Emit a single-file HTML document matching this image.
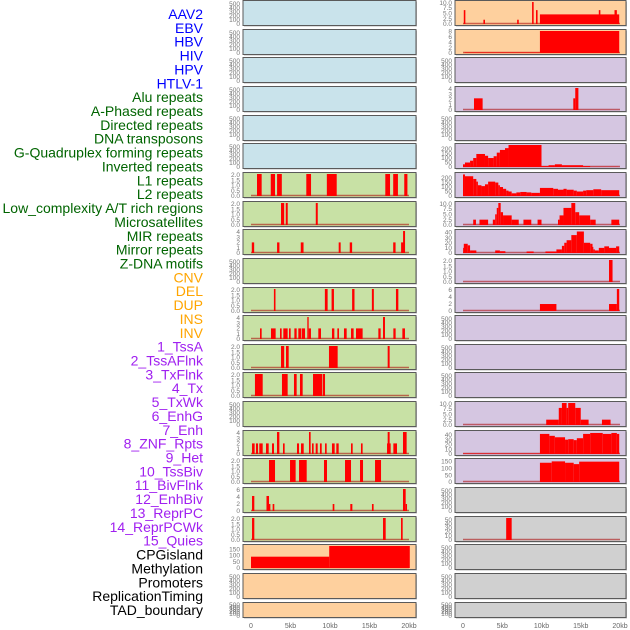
<!DOCTYPE html>
<html><head><meta charset="utf-8"><style>
body{margin:0;background:#fff;width:630px;height:630px;overflow:hidden;font-family:"Liberation Sans",sans-serif}
svg{position:absolute;left:0;top:0}
</style></head><body>
<svg id="chart" width="630" height="630"></svg>
<script>
// ---- labels ----
const labels=["AAV2","EBV","HBV","HIV","HPV","HTLV-1","Alu repeats","A-Phased repeats","Directed repeats","DNA transposons","G-Quadruplex forming repeats","Inverted repeats","L1 repeats","L2 repeats","Low_complexity A/T rich regions","Microsatellites","MIR repeats","Mirror repeats","Z-DNA motifs","CNV","DEL","DUP","INS","INV","1_TssA","2_TssAFlnk","3_TxFlnk","4_Tx","5_TxWk","6_EnhG","7_Enh","8_ZNF_Rpts","9_Het","10_TssBiv","11_BivFlnk","12_EnhBiv","13_ReprPC","14_ReprPCWk","15_Quies","CPGisland","Methylation","Promoters","ReplicationTiming","TAD_boundary"];
const labelColors=["#0000ff","#0000ff","#0000ff","#0000ff","#0000ff","#0000ff","#006400","#006400","#006400","#006400","#006400","#006400","#006400","#006400","#006400","#006400","#006400","#006400","#006400","#ffa500","#ffa500","#ffa500","#ffa500","#ffa500","#a020f0","#a020f0","#a020f0","#a020f0","#a020f0","#a020f0","#a020f0","#a020f0","#a020f0","#a020f0","#a020f0","#a020f0","#a020f0","#a020f0","#a020f0","#000","#000","#000","#000","#000"];
const xTicks=[0,5,10,15,20];
const xTickLabels=["0","5kb","10kb","15kb","20kb"];
// ---- tick sets ----
const T500=[0,100,200,300,400,500],T2=[0,0.5,1,1.5,2],T4=[0,1,2,3,4],T6=[0,2,4,6],T10=[0,2.5,5,7.5,10],T8=[0,2,4,6,8],T200=[0,50,100,150,200],T40=[0,10,20,30,40],T150=[0,50,100,150],T50=[0,10,20,30,40,50];
const T2f=["0.0","0.5","1.0","1.5","2.0"],T10f=["0.0","2.5","5.0","7.5","10.0"];
// ---- left column data [startKb,endKb,value] ----
const L06=[[0.76,1.35,2.2],[2.5,3.04,2.2],[3.3,3.9,2.2],[7,7.6,2.2],[9.6,10.85,2.2],[17,17.6,2.2],[18,18.6,2.2],[19.4,19.8,2.2]];
const L07=[[3.8,4.2,2.2],[4.4,4.65,2.2],[8.2,8.45,2.2]];
const L08=[[0.1,0.4,2],[3.3,3.6,2],[6.3,6.65,2],[11.1,11.35,2],[12.5,12.8,2],[18,18.3,2],[19,19.3,2],[19.25,19.5,4.2]];
const L10=[[2.9,3.1,2.2],[9.35,9.7,2.2],[10.2,10.5,2.2],[12.8,13.1,2.2],[15.3,15.55,2.2],[18.35,18.65,2.2]];
const L11=[[1.14,1.35,2],[2.53,3.12,2],[3.67,3.88,2],[4.09,4.64,2],[4.81,5.02,2],[5.49,5.78,2],[5.99,6.33,2],[6.41,6.84,2],[7.13,7.3,4.2],[7.3,7.59,2],[8.52,8.86,2],[10.25,10.55,2],[10.93,11.14,2],[11.77,12.11,2],[12.66,12.99,2],[13.29,14.13,2],[16.12,16.41,2],[16.71,16.96,4.2],[18.02,18.31,2],[19.16,19.49,2]];
const L12=[[3.8,4.2,2.2],[4.43,4.77,2.2],[9.87,10.97,2.2],[17.3,17.55,2.2]];
const L13=[[0.5,1.48,2.2],[3.92,4.64,2.2],[5.44,5.78,2.2],[6.2,6.54,2.2],[7.85,9.03,2.2],[9.11,9.37,2.2]];
const L15=[[0.13,0.46,2],[0.63,0.89,2],[1.05,1.48,2],[1.9,2.24,2],[2.66,2.91,2],[3.29,3.59,4.2],[4.05,4.26,2],[5.82,6.08,2],[6.33,6.67,2],[7.34,7.55,4.2],[7.72,7.93,2],[8.19,8.44,2],[8.73,8.95,2],[9.37,9.58,2],[10.25,10.59,2],[10.8,11.1,2],[12.66,12.87,2],[13.92,14.13,2],[17.22,17.68,2],[17.3,17.55,4.2],[18.02,18.48,2],[19.24,19.7,4.2]];
const L16=[[2.28,3.04,2.2],[4.94,5.65,2.2],[6.08,7.05,2.2],[9.24,9.62,2.2],[11.9,12.66,2.2],[13.8,14.18,2.2],[15.7,16.46,2.2]];
const L17=[[0.13,0.42,4.3],[1.96,2.28,4.3],[2.28,2.45,2],[2.74,2.95,2],[10.34,10.55,2],[12.57,12.83,2],[15.31,15.52,2],[19.24,19.58,6.5],[19.58,19.75,2]];
const L18=[[0.13,0.42,2.2],[16.71,17.05,2.2],[18.99,19.2,2.2]];
const L19=[[0,9.9,90],[9.9,20.1,180]];
// ---- right column data ----
const R00=[[0.1,0.3,6.5],[2.6,2.8,2],[6.9,7.1,2],[8.8,9.0,10.5],[9.3,9.5,6.5],[9.8,19.9,4.5],[17.3,17.5,6.5],[19.3,19.6,6.5]];
const R01=[[0.2,9.8,0.2],[9.8,19.9,8.2]];
const R03=[[1.4,2.5,2.2],[14.05,14.3,2.2],[14.3,14.7,4.2]];
const R05=[[0,0.25,30],[0.25,0.9,50],[0.9,1.3,70],[1.3,1.7,100],[1.7,2.8,145],[2.8,3.2,125],[3.2,3.9,100],[3.9,4.3,120],[4.3,4.7,160],[4.7,5.35,190],[5.35,5.8,210],[5.8,10,250],[10,10.9,10],[10.9,11.7,20],[11.7,12.6,30],[12.6,15.3,20],[15.3,16.2,10],[16.2,19.8,2]];
const R06=[[0,0.25,240],[0.25,1.3,220],[1.3,1.7,190],[1.7,1.9,160],[1.9,2.35,120],[2.35,2.8,110],[2.8,3.2,130],[3.2,4.1,160],[4.1,4.5,150],[4.5,4.7,120],[4.7,5.1,100],[5.1,5.5,80],[5.5,5.8,60],[5.8,6.2,50],[6.2,6.8,30],[6.8,7.3,40],[7.3,8.1,45],[8.1,8.7,40],[8.7,9.8,35],[9.8,11.5,90],[11.5,12.1,80],[12.1,12.8,70],[12.8,13.2,80],[13.2,14.1,70],[14.1,14.5,60],[14.5,15.3,50],[15.3,15.7,60],[15.7,16.6,65],[16.6,17.6,75],[17.6,19.9,65]];
const R07=[[1.3,1.65,2.5],[2.1,3.2,2.5],[3.8,4.1,2.5],[4.1,4.3,5],[4.3,4.5,8],[4.5,4.8,10.5],[4.8,5.1,6],[5.1,6.2,4.5],[6.2,7.1,2.5],[7.7,8.7,2.5],[9.5,10,2.5],[12.1,12.3,2.5],[12.3,12.8,4.5],[12.8,13.8,8],[13.8,14.3,10.5],[14.3,14.8,6],[14.8,16.2,4.5],[16.2,16.9,2.5],[18.9,19.9,2.5]];
const R08=[[0,0.1,10],[0.1,0.6,18],[0.6,0.9,15],[0.9,1.7,5],[4.1,4.7,5],[4.7,5.4,3.5],[8.1,9,3],[10.5,11.9,3],[11.9,12.6,7],[12.6,12.9,14],[12.9,13.2,20],[13.2,13.8,25],[13.8,14.5,35],[14.5,15.4,42],[15.4,16.2,20],[16.2,16.5,18],[16.5,16.6,12],[16.6,16.8,7],[16.8,17.3,5],[17.3,18,10],[18,18.6,13],[18.6,19.5,10],[19.5,19.9,13]];
const R09=[[18.6,19.05,2.2]];
const R10=[[9.8,11.9,2],[18.6,19.6,2],[19.6,19.9,6.5]];
const R14=[[10.6,12.2,2.5],[12.2,12.6,8],[12.6,13.2,10.5],[13.2,13.4,8],[13.4,14.3,10.5],[14.3,15,8],[15,16,2.5],[17.7,18.8,2.5]];
const R15=[[0,9.8,1],[9.8,11,42],[11,11.7,38],[11.7,13,35],[13,13.4,30],[13.4,14.1,31],[14.1,14.5,29],[14.5,15.3,33],[15.3,16.2,42],[16.2,17.8,44],[17.8,18.9,42],[18.9,19.6,44],[19.6,19.9,42]];
const R16=[[9.8,11.3,140],[11.3,13,150],[13,14.1,140],[14.1,14.8,130],[14.8,19.9,148]];
const R18=[[5.5,6.2,55]];
// ---- panel definitions: [data, ticks, tickLabels, ymax, bg] ----
const BL="#c9e3eb",GR="#c8e1a5",OR="#fed09e",PU="#d5c6e1",GY="#d0d0d0";
const leftPanels=[[null,T500,null,540,BL],[null,T500,null,540,BL],[null,T500,null,540,BL],[null,T500,null,540,BL],[null,T500,null,540,BL],[null,T500,null,540,BL],
[L06,T2,T2f,2.08,GR],[L07,T2,T2f,2.08,GR],[L08,T4,null,4.15,GR],[null,T500,null,540,GR],[L10,T2,T2f,2.08,GR],[L11,T4,null,4.15,GR],[L12,T2,T2f,2.08,GR],[L13,T2,T2f,2.08,GR],[null,T500,null,540,GR],[L15,T4,null,4.15,GR],[L16,T2,T2f,2.08,GR],[L17,T6,null,6.3,GR],[L18,T2,T2f,2.08,GR],
[L19,T150,null,175,OR],[null,T500,null,540,OR],[null,T500,null,540,OR]];
const rightPanels=[[R00,T10,T10f,10.3,OR],[R01,T8,null,8.2,OR],[null,T500,null,540,PU],[R03,T4,null,4.15,PU],[null,T500,null,540,PU],[R05,T200,null,245,PU],[R06,T200,null,245,PU],[R07,T10,T10f,10.3,PU],[R08,T40,null,43,PU],[R09,T2,T2f,2.08,PU],[R10,T6,null,6.3,PU],[null,T500,null,540,PU],[null,T500,null,540,PU],[null,T500,null,540,PU],[R14,T10,T10f,10.3,PU],[R15,T40,null,46,PU],[R16,T150,null,160,PU],[null,T500,null,540,GY],[R18,T50,null,55,GY],[null,T500,null,540,GY],[null,T500,null,540,GY],[null,T500,null,540,GY]];

const NS="http://www.w3.org/2000/svg";
const svg=document.getElementById('chart');
function mk(tag,attrs,parent){const e=document.createElementNS(NS,tag);for(const k in attrs)e.setAttribute(k,attrs[k]);(parent||svg).appendChild(e);return e;}

// labels
labels.forEach((t,i)=>{
  const e=mk('text',{x:203,y:19+i*13.86,'text-anchor':'end','font-size':'14',fill:labelColors[i]});
  e.textContent=t;
  
  
});

function drawColumn(panels,colName,pl,pr,x0,pxPerKb){
  const xs=kb=>x0+kb*pxPerKb;
  panels.forEach((p,i)=>{
    const [data,ticks,tl,ymax,bg]=p;
    const top=Math.round(i*28.65)+0.5;
    const h=(i===21)?15:25;
    const g=mk('g',{});
    
    
    mk('rect',{x:pl+1,y:top+1,width:pr-pl,height:h,fill:'#bbb'},g);
    mk('rect',{x:pl,y:top,width:pr-pl,height:h,fill:bg,stroke:'#5a5a5a','stroke-width':1},g);
    const y0=top+h-1.5,y1=top+1.5;
    const ys=v=>y0-Math.min(v,ymax)/ymax*(y0-y1);
    ticks.forEach((tv,k)=>{
      const t=mk('text',{x:pl-3,y:ys(tv)+2.2,'text-anchor':'end','font-size':'6.5',fill:'#777'},g);
      t.textContent=tl?tl[k]:String(tv);
      
      
    });
    if(data){
      const bl=mk('line',{x1:xs(0),x2:xs(20),y1:y0-0.5,y2:y0-0.5,stroke:'rgba(170,0,0,0.55)','stroke-width':1.5},g);
      
      
      data.forEach(s=>{
        const r=mk('rect',{x:xs(s[0]),y:ys(s[2]),width:Math.max(0.8,xs(s[1])-xs(s[0])),height:y0-ys(s[2]),fill:'#ff0000'},g);
        
        
      });
    }
  });
  xTicks.forEach((v,k)=>{
    const t=mk('text',{x:xs(v),y:628,'text-anchor':'middle','font-size':'7',fill:'#666'});
    t.textContent=xTickLabels[k];
    
    
  });
}
drawColumn(leftPanels,'left',243,416,251,7.9);
drawColumn(rightPanels,'right',455,626,463,7.85);
</script>
</body></html>
